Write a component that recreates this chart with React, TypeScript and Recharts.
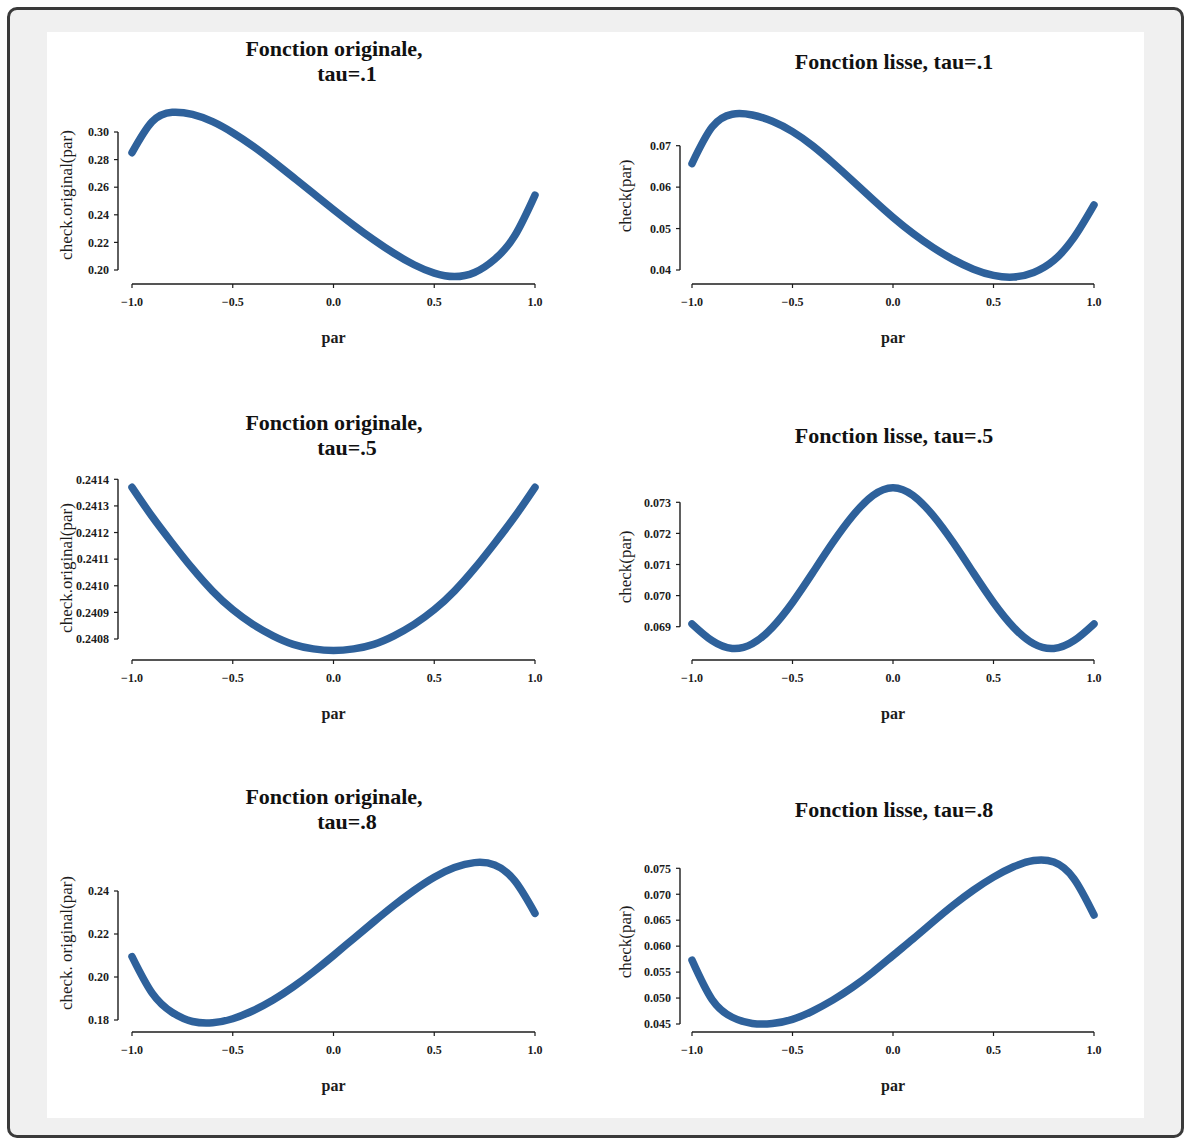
import { Line, LineChart, ReferenceLine, XAxis, YAxis } from 'recharts'

// x grid shared by every panel
const PAR = [-1.0, -0.9, -0.8, -0.7, -0.6, -0.5, -0.4, -0.3, -0.2, -0.1, 0.0, 0.1, 0.2, 0.3, 0.4, 0.5, 0.6, 0.7, 0.8, 0.9, 1.0]
const X_TICKS = [-1, -0.5, 0, 0.5, 1]

// values
const ORIG_TAU_1 = [0.285, 0.3075, 0.3143, 0.3127, 0.3075, 0.2995, 0.2898, 0.2788, 0.2672, 0.2555, 0.2438, 0.2325, 0.2218, 0.2121, 0.2038, 0.1977, 0.1952, 0.1982, 0.2078, 0.225, 0.2543]
const LISSE_TAU_1 = [0.0657, 0.0745, 0.0776, 0.0774, 0.0759, 0.0734, 0.07, 0.0659, 0.0615, 0.057, 0.0527, 0.0488, 0.0454, 0.0425, 0.0402, 0.0387, 0.0383, 0.0394, 0.0423, 0.0478, 0.0557]
const ORIG_TAU_5 = [0.24137, 0.24126, 0.24116, 0.241065, 0.24098, 0.24091, 0.240855, 0.240812, 0.24078, 0.240763, 0.240757, 0.240763, 0.24078, 0.240812, 0.240855, 0.24091, 0.24098, 0.241065, 0.24116, 0.24126, 0.24137]
const LISSE_TAU_5 = [0.06909, 0.06855, 0.0683, 0.06845, 0.06898, 0.06978, 0.07073, 0.0717, 0.07257, 0.07322, 0.07347, 0.07322, 0.07257, 0.0717, 0.07073, 0.06978, 0.06898, 0.06845, 0.0683, 0.06855, 0.06909]
const ORIG_TAU_8 = [0.2095, 0.1925, 0.1835, 0.1793, 0.1787, 0.1806, 0.1843, 0.1893, 0.1954, 0.2024, 0.21, 0.2179, 0.2257, 0.2333, 0.2403, 0.2464, 0.2509, 0.2532, 0.2521, 0.2447, 0.2296]
const LISSE_TAU_8 = [0.0573, 0.0497, 0.0463, 0.0451, 0.0451, 0.0459, 0.0475, 0.0496, 0.0521, 0.055, 0.0582, 0.0614, 0.0647, 0.0679, 0.0708, 0.0733, 0.0753, 0.0765, 0.0762, 0.073, 0.066]

// y tick labels
const TICKS_ORIG_TAU_1 = [0.2, 0.22, 0.24, 0.26, 0.28, 0.3]
const TICKS_LISSE_TAU_1 = [0.04, 0.05, 0.06, 0.07]
const TICKS_ORIG_TAU_5 = [0.2408, 0.2409, 0.241, 0.2411, 0.2412, 0.2413, 0.2414]
const TICKS_LISSE_TAU_5 = [0.069, 0.07, 0.071, 0.072, 0.073]
const TICKS_ORIG_TAU_8 = [0.18, 0.2, 0.22, 0.24]
const TICKS_LISSE_TAU_8 = [0.045, 0.05, 0.055, 0.06, 0.065, 0.07, 0.075]

const FONT = '"Liberation Serif", "Times New Roman", serif'
const BLUE = '#2e619b'
const INK = '#1c1c1c'

type PanelSpec = {
  values: number[]
  yTicks: number[]
  digits: number
  yLabel: string
  title: string[]
  // page pixel geometry
  left: number
  width: number
  spineX: number
  xm1: number
  xp1: number
  topPx: number
  botPx: number
  spineY: number
  plotTop: number
  yLabelX: number
  yLabelY: number
  titleX: number[]
  titleY: number[]
}

const LEFT_COL = { left: 47, width: 560, spineX: 118, xm1: 132, xp1: 535, yLabelX: 72 }
const RIGHT_COL = { left: 600, width: 544, spineX: 680, xm1: 692, xp1: 1094, yLabelX: 631 }

const PANELS: PanelSpec[] = [
  {
    ...LEFT_COL, values: ORIG_TAU_1, yTicks: TICKS_ORIG_TAU_1, digits: 2, yLabel: 'check.original(par)',
    title: ['Fonction originale,', 'tau=.1'], titleX: [334, 347], titleY: [55.5, 81],
    topPx: 132, botPx: 270, spineY: 284, plotTop: 100, yLabelY: 195,
  },
  {
    ...RIGHT_COL, values: LISSE_TAU_1, yTicks: TICKS_LISSE_TAU_1, digits: 2, yLabel: 'check(par)',
    title: ['Fonction lisse, tau=.1'], titleX: [894], titleY: [69],
    topPx: 145.7, botPx: 270, spineY: 284, plotTop: 100, yLabelY: 196,
  },
  {
    ...LEFT_COL, values: ORIG_TAU_5, yTicks: TICKS_ORIG_TAU_5, digits: 4, yLabel: 'check.original(par)',
    title: ['Fonction originale,', 'tau=.5'], titleX: [334, 347], titleY: [429.5, 455],
    topPx: 479.3, botPx: 639, spineY: 660, plotTop: 470, yLabelY: 568,
  },
  {
    ...RIGHT_COL, values: LISSE_TAU_5, yTicks: TICKS_LISSE_TAU_5, digits: 3, yLabel: 'check(par)',
    title: ['Fonction lisse, tau=.5'], titleX: [894], titleY: [443],
    topPx: 502.3, botPx: 626.7, spineY: 660, plotTop: 470, yLabelY: 567,
  },
  {
    ...LEFT_COL, values: ORIG_TAU_8, yTicks: TICKS_ORIG_TAU_8, digits: 2, yLabel: 'check. original(par)',
    title: ['Fonction originale,', 'tau=.8'], titleX: [334, 347], titleY: [803.5, 829],
    topPx: 891, botPx: 1020, spineY: 1032, plotTop: 845, yLabelY: 943,
  },
  {
    ...RIGHT_COL, values: LISSE_TAU_8, yTicks: TICKS_LISSE_TAU_8, digits: 3, yLabel: 'check(par)',
    title: ['Fonction lisse, tau=.8'], titleX: [894], titleY: [817],
    topPx: 868.3, botPx: 1024, spineY: 1032, plotTop: 845, yLabelY: 942,
  },
]

const fmtX = (v: number) => (v < 0 ? '\u2212' + Math.abs(v).toFixed(1) : v.toFixed(1))

function Panel({ p }: { p: PanelSpec }) {
  const T = p.plotTop - 10
  const H = p.spineY + 80 - T
  const kx = (p.xp1 - p.xm1) / 2
  const xMin = -1 - (p.xm1 - p.spineX) / kx
  const vBot = p.yTicks[0]
  const vTop = p.yTicks[p.yTicks.length - 1]
  const ky = (p.botPx - p.topPx) / (vTop - vBot)
  const yMin = vBot - (p.spineY - p.botPx) / ky
  const yMax = vTop + (p.topPx - p.plotTop) / ky
  const data = PAR.map((x, i) => ({ par: x, value: p.values[i] }))

  const xl = (p.xm1 + p.xp1) / 2 - p.left
  const yl = p.spineY + 59 - T
  const lx = p.yLabelX - p.left
  const ly = p.yLabelY - T
  const tickStyle = { fill: INK, fontSize: 12, fontFamily: FONT, fontWeight: 'bold' }

  return (
    <div style={{ position: 'absolute', left: p.left, top: T }}>
      <LineChart
        width={p.width}
        height={H}
        data={data}
        margin={{ top: p.plotTop - T, right: p.left + p.width - p.xp1, bottom: 0, left: 0 }}
      >
        <XAxis
          type="number"
          dataKey="par"
          domain={[xMin, 1]}
          ticks={X_TICKS}
          interval={0}
          axisLine={false}
          tickLine={{ stroke: INK, strokeWidth: 1.2 }}
          tickSize={4}
          tickMargin={9}
          tick={tickStyle}
          tickFormatter={fmtX}
          height={T + H - p.spineY}
          label={() => (
            <text x={xl} y={yl} textAnchor="middle" fontFamily={FONT} fontSize={16} fontWeight="bold" fill={INK}>
              par
            </text>
          )}
        />
        <YAxis
          type="number"
          domain={[yMin, yMax]}
          ticks={p.yTicks}
          interval={0}
          axisLine={false}
          tickLine={{ stroke: INK, strokeWidth: 1.2 }}
          tickSize={4}
          tickMargin={5}
          tick={tickStyle}
          tickFormatter={(v: number) => v.toFixed(p.digits)}
          width={p.spineX - p.left}
          label={() => (
            <text
              x={lx}
              y={ly}
              transform={`rotate(-90 ${lx} ${ly})`}
              textAnchor="middle"
              fontFamily={FONT}
              fontSize={17}
              fill={INK}
            >
              {p.yLabel}
            </text>
          )}
        />
        <ReferenceLine segment={[{ x: -1, y: yMin }, { x: 1, y: yMin }]} stroke={INK} strokeWidth={1.4} ifOverflow="visible" />
        <ReferenceLine segment={[{ x: xMin, y: vBot }, { x: xMin, y: vTop }]} stroke={INK} strokeWidth={1.4} ifOverflow="visible" />
        <Line
          dataKey="value"
          type="natural"
          stroke={BLUE}
          strokeWidth={7.5}
          strokeLinecap="round"
          dot={false}
          activeDot={false}
          isAnimationActive={false}
        />
      </LineChart>
    </div>
  )
}

export default function App() {
  return (
    <div style={{ position: 'absolute', left: 0, top: 0, width: 1184, height: 1138, background: '#ffffff', overflow: 'hidden' }}>
      <div
        style={{
          position: 'absolute', left: 7, top: 7, width: 1177, height: 1131, boxSizing: 'border-box',
          border: '3px solid #3a3a3a', borderRadius: 10, background: '#f0f0f0',
        }}
      />
      <div style={{ position: 'absolute', left: 47, top: 32, width: 1097, height: 1086, background: '#ffffff' }} />
      {PANELS.map((p, i) => (
        <Panel key={i} p={p} />
      ))}
      <svg width={1184} height={1138} style={{ position: 'absolute', left: 0, top: 0, pointerEvents: 'none' }}>
        {PANELS.map((p, i) =>
          p.title.map((t, j) => (
            <text
              key={`${i}-${j}`}
              x={p.titleX[j]}
              y={p.titleY[j]}
              textAnchor="middle"
              fontFamily={FONT}
              fontWeight="bold"
              fontSize={22}
              fill="#111"
            >
              {t}
            </text>
          )),
        )}
      </svg>
    </div>
  )
}
